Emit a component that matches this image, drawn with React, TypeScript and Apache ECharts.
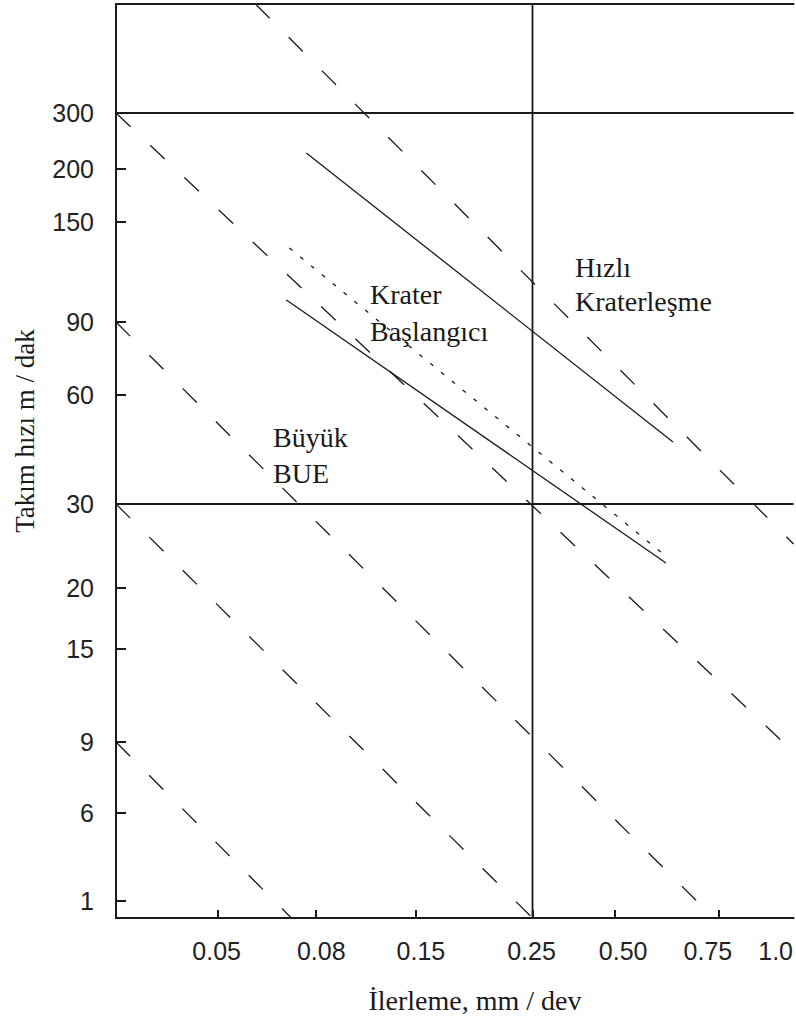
import { useEffect, useRef } from 'react';
import * as echarts from 'echarts';

// Axis scale: positions along the (non-uniform) nomogram axes
const X_MAX = 680;
const Y_MAX = 914;
const yTickValues = [805, 749, 696, 596, 523, 414, 330, 269, 176, 105, 17];
const yTickLabels = ['300', '200', '150', '90', '60', '30', '20', '15', '9', '6', '1'];
const xTickValues = [102, 200, 301, 418, 501, 605];
const xLabelValues = [101, 206, 306, 417, 509, 594, 662];
const xTickLabels = ['0.05', '0.08', '0.15', '0.25', '0.50', '0.75', '1.0'];

// Reference grid lines (300 and 30 m/dak, 0.25 mm/dev)
const gridSpeeds = [805, 414];
const gridFeeds = [418];

// Constant-rate dashed guide lines
const guide1 = [[140, 914], [680, 374]];
const guide2 = [[0, 805], [680, 166]];
const guide3 = [[0, 596], [600, 0]];
const guide4 = [[0, 414], [418, 0]];
const guide5 = [[0, 176], [176, 0]];
const guideLines = [guide1, guide2, guide3, guide4, guide5];

// Boundary curves
const hizliKraterlesme = [[191, 765], [559, 476]];
const kraterBaslangici = [[171, 618], [552, 355]];
const kraterBaslangiciDotted = [[174, 670], [554, 360]];

const INK = '#1a1a1a';
const SANS = '"Liberation Sans", Arial, sans-serif';
const SERIF = '"Liberation Serif", "Times New Roman", serif';

export default function App() {
  const ref = useRef<HTMLDivElement>(null);
  useEffect(() => {
    if (!ref.current) return;
    const chart = echarts.init(ref.current, undefined, { renderer: 'svg' });
    const series: any[] = [];
    guideLines.forEach((g, i) => {
      series.push({
        type: 'line', name: 'guide' + i, data: g, symbol: 'none', silent: true,
        lineStyle: { color: INK, width: 1.3, type: [20, 27] },
      });
    });
    gridSpeeds.forEach((v, i) => {
      series.push({
        type: 'line', name: 'hgrid' + i, data: [[0, v], [X_MAX, v]], symbol: 'none', silent: true,
        lineStyle: { color: INK, width: 1.8, type: 'solid' },
      });
    });
    gridFeeds.forEach((v, i) => {
      series.push({
        type: 'line', name: 'vgrid' + i, data: [[v, 0], [v, Y_MAX]], symbol: 'none', silent: true,
        lineStyle: { color: INK, width: 1.8, type: 'solid' },
      });
    });
    series.push({
      type: 'line', name: 'Hızlı Kraterleşme', data: hizliKraterlesme, symbol: 'none',
      lineStyle: { color: INK, width: 1.3, type: 'solid' },
    });
    series.push({
      type: 'line', name: 'Krater Başlangıcı', data: kraterBaslangici, symbol: 'none',
      lineStyle: { color: INK, width: 1.3, type: 'solid' },
    });
    series.push({
      type: 'line', name: 'Krater Başlangıcı (noktalı)', data: kraterBaslangiciDotted, symbol: 'none',
      lineStyle: { color: INK, width: 1.3, type: [4, 10] },
    });

    const textStyle = (fs: number) => ({ fill: INK, fontSize: fs, fontFamily: SERIF });

    chart.setOption({
      animation: false,
      backgroundColor: '#ffffff',
      grid: { left: 116, right: 0, top: 4, bottom: 99, containLabel: false },
      xAxis: [
        {
          type: 'value', min: 0, max: X_MAX, position: 'bottom',
          axisLine: { show: true, lineStyle: { color: INK, width: 2 } },
          axisTick: { show: true, inside: true, length: 8, customValues: xTickValues, lineStyle: { color: INK, width: 2 } },
          axisLabel: {
            customValues: xLabelValues, margin: 20, fontSize: 25, color: '#222', fontFamily: SANS,
            formatter: (v: number) => {
              const i = xLabelValues.indexOf(Math.round(v));
              return i >= 0 ? xTickLabels[i] : '';
            },
          },
          splitLine: { show: false },
        },
        {
          type: 'value', min: 0, max: X_MAX, position: 'top',
          axisLine: { show: true, lineStyle: { color: INK, width: 2 } },
          axisTick: { show: false }, axisLabel: { show: false }, splitLine: { show: false },
        },
      ],
      yAxis: {
        type: 'value', min: 0, max: Y_MAX,
        axisLine: { show: true, lineStyle: { color: INK, width: 2 } },
        axisTick: { show: true, inside: true, length: 10, customValues: yTickValues, lineStyle: { color: INK, width: 2 } },
        axisLabel: {
          customValues: yTickValues, margin: 22, fontSize: 25, color: '#222', fontFamily: SANS,
          formatter: (v: number) => {
            const i = yTickValues.indexOf(Math.round(v));
            return i >= 0 ? yTickLabels[i] : '';
          },
        },
        splitLine: { show: false },
      },
      series,
      graphic: [
        { type: 'text', x: 25, y: 431, rotation: Math.PI / 2,
          style: { text: 'Takım hızı m / dak', align: 'center', verticalAlign: 'middle', ...textStyle(27) } },
        { type: 'text', x: 475, y: 1000,
          style: { text: 'İlerleme, mm / dev', align: 'center', verticalAlign: 'middle', ...textStyle(28) } },
        { type: 'text', x: 370, y: 294, style: { text: 'Krater', align: 'left', verticalAlign: 'middle', ...textStyle(28) } },
        { type: 'text', x: 370, y: 331, style: { text: 'Başlangıcı', align: 'left', verticalAlign: 'middle', ...textStyle(28) } },
        { type: 'text', x: 575, y: 267, style: { text: 'Hızlı', align: 'left', verticalAlign: 'middle', ...textStyle(28) } },
        { type: 'text', x: 575, y: 301, style: { text: 'Kraterleşme', align: 'left', verticalAlign: 'middle', ...textStyle(28) } },
        { type: 'text', x: 273, y: 437, style: { text: 'Büyük', align: 'left', verticalAlign: 'middle', ...textStyle(28) } },
        { type: 'text', x: 273, y: 473, style: { text: 'BUE', align: 'left', verticalAlign: 'middle', ...textStyle(28) } },
      ],
    });
    return () => chart.dispose();
  }, []);
  return <div ref={ref} style={{ position: 'absolute', left: 0, top: 0, width: 796, height: 1017 }} />;
}
